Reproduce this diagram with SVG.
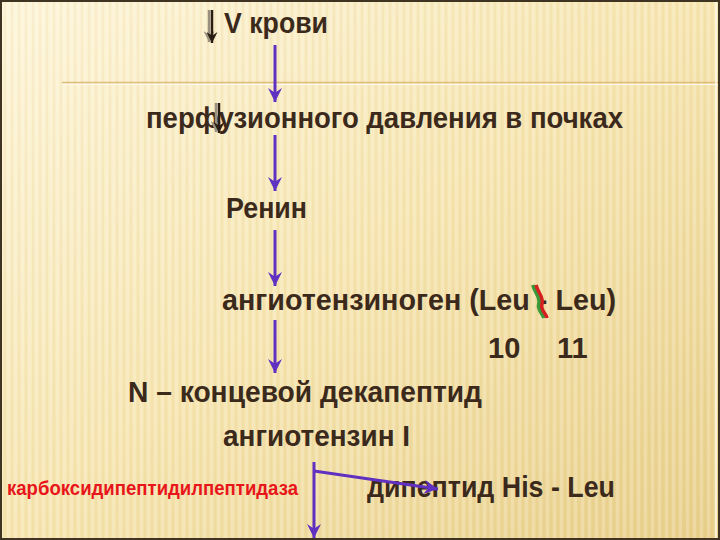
<svg xmlns="http://www.w3.org/2000/svg" width="720" height="540" viewBox="0 0 720 540">
  <defs>
    <linearGradient id="bg" x1="0" y1="0" x2="1" y2="1">
      <stop offset="0" stop-color="#fdf5d9"/>
      <stop offset="0.5" stop-color="#f6e5b0"/>
      <stop offset="1" stop-color="#e8cf8a"/>
    </linearGradient>
    <pattern id="stripes" width="7" height="10" patternUnits="userSpaceOnUse">
      <rect x="0" y="0" width="3" height="10" fill="#ffffff" opacity="0.18"/>
      <rect x="4" y="0" width="2" height="10" fill="#c8a860" opacity="0.08"/>
    </pattern>
    <marker id="ah" viewBox="0 0 12 12" refX="12" refY="6" markerWidth="14" markerHeight="14" markerUnits="userSpaceOnUse" orient="auto">
      <path d="M0,0 L12,6 L0,12 L4,6 z" fill="#6030c0"/>
    </marker>
    <marker id="dah" viewBox="0 0 12 12" refX="12" refY="6" markerWidth="11" markerHeight="11" markerUnits="userSpaceOnUse" orient="auto">
      <path d="M0,0 L12,6 L0,12 L4,6 z" fill="#2a1e14"/>
    </marker>
    <marker id="gah" viewBox="0 0 12 12" refX="12" refY="6" markerWidth="11" markerHeight="11" markerUnits="userSpaceOnUse" orient="auto">
      <path d="M0,0 L12,6 L0,12 L4,6 z" fill="#9a9080"/>
    </marker>
  </defs>
  <style>
    .t { font-family: "Liberation Sans", Arial, sans-serif; font-weight: bold; font-size: 29px; fill: #3b2a1c; }
    .r { font-family: "Liberation Sans", Arial, sans-serif; font-weight: bold; font-size: 20px; fill: #e8161a; }
    .c { stroke: #6030c0; stroke-width: 3; fill: none; marker-end: url(#ah); }
  </style>

  <g id="background">
    <rect x="0" y="0" width="720" height="540" fill="url(#bg)"/>
    <rect x="0" y="0" width="720" height="540" fill="url(#stripes)"/>
    <line x1="62" y1="82.5" x2="720" y2="82.5" stroke="#e0bd7c" stroke-width="1.5"/>
    <line x1="62" y1="84.5" x2="720" y2="84.5" stroke="#fffaf0" stroke-width="1"/>
    <line x1="716" y1="0" x2="716" y2="540" stroke="#fff8e6" stroke-width="1.5"/>
    <rect x="1" y="1" width="718" height="538" fill="none" stroke="#3f3322" stroke-width="2"/>
  </g>

  <g id="node-v-krovi">
    <line x1="209" y1="10" x2="209" y2="42" stroke="#9a9080" stroke-width="2.5" marker-end="url(#gah)"/>
    <line x1="212" y1="10" x2="212" y2="43" stroke="#2a1e14" stroke-width="2.5" marker-end="url(#dah)"/>
    <text class="t" x="224" y="33" textLength="104" lengthAdjust="spacingAndGlyphs">V крови</text>
  </g>

  <g id="node-perfuzia">
    <text class="t" x="146" y="128" textLength="477" lengthAdjust="spacingAndGlyphs">перфузионного давления в почках</text>
    <line x1="216" y1="103" x2="216" y2="132" stroke="#9a9080" stroke-width="2.5" marker-end="url(#gah)"/>
    <line x1="219" y1="103" x2="219" y2="133" stroke="#2a1e14" stroke-width="2.5" marker-end="url(#dah)"/>
  </g>

  <g id="node-renin">
    <text class="t" x="226" y="218" textLength="81" lengthAdjust="spacingAndGlyphs">Ренин</text>
  </g>

  <g id="node-angiotensinogen">
    <text class="t" x="222" y="310" textLength="394" lengthAdjust="spacingAndGlyphs">ангиотензиноген (Leu - Leu)</text>
    <path d="M533,285 C535,293 541,297 539,304 C537,310 543,313 544,318" fill="none" stroke="#3a9a3a" stroke-width="4"/>
    <path d="M536,285 C538,293 544,297 542,304 C540,310 546,313 547,318" fill="none" stroke="#d42020" stroke-width="3.5"/>
    <text class="t"><tspan x="488" y="358">10</tspan><tspan x="557" y="358">11</tspan></text>
  </g>

  <g id="node-n-dekapeptid">
    <text class="t" x="128" y="402" textLength="354" lengthAdjust="spacingAndGlyphs">N – концевой декапептид</text>
  </g>

  <g id="node-angiotensin-1">
    <text class="t" x="223" y="446" textLength="187" lengthAdjust="spacingAndGlyphs">ангиотензин I</text>
  </g>

  <g id="node-enzyme">
    <text class="r" x="7" y="495" textLength="291" lengthAdjust="spacingAndGlyphs">карбоксидипептидилпептидаза</text>
  </g>

  <g id="node-dipeptid">
    <text class="t" x="367" y="497" textLength="248" lengthAdjust="spacingAndGlyphs">дипептид His - Leu</text>
  </g>

  <g id="connectors">
    <line class="c" x1="275" y1="45" x2="275" y2="102"/>
    <line class="c" x1="275" y1="135" x2="275" y2="191"/>
    <line class="c" x1="275" y1="230" x2="275" y2="286"/>
    <line class="c" x1="275" y1="320" x2="275" y2="373"/>
    <line class="c" x1="314" y1="462" x2="314" y2="538"/>
    <line class="c" x1="314" y1="471" x2="438" y2="489"/>
  </g>
</svg>
